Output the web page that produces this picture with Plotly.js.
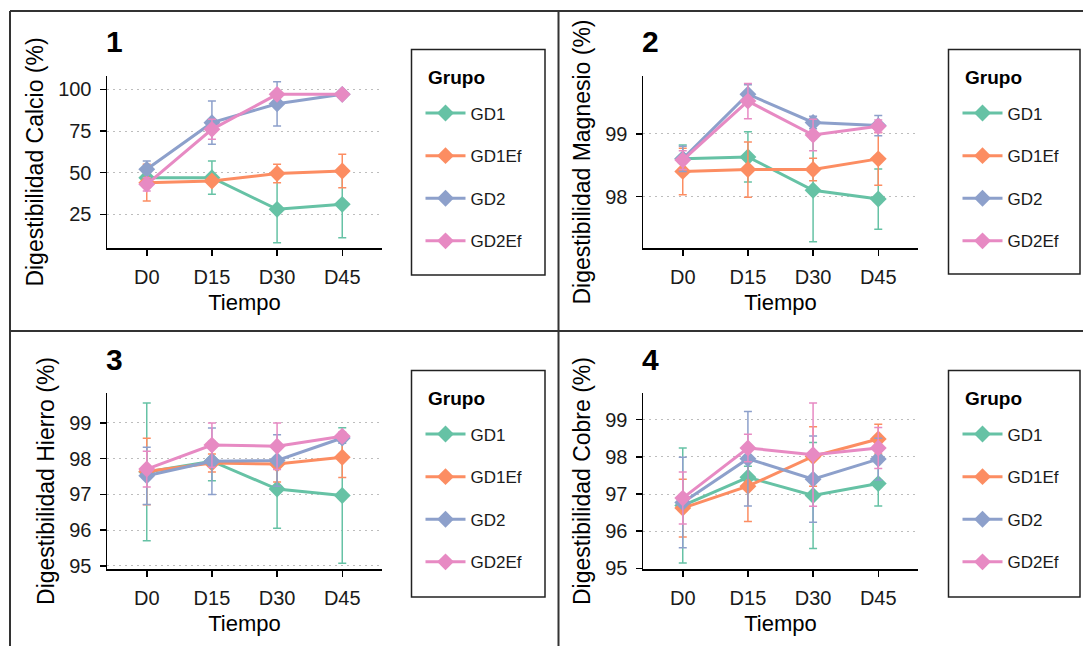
<!DOCTYPE html>
<html>
<head>
<meta charset="utf-8">
<script src="https://cdn.plot.ly/plotly-3.0.1.min.js"></script>
<style>html,body{margin:0;padding:0;background:#fff;}#chart{width:1083px;height:646px;}</style>
</head>
<body>
<div id="chart"></div>
<script>
// ---- data ----
const tiempo = ["D0", "D15", "D30", "D45"];
const grupos = ["GD1", "GD1Ef", "GD2", "GD2Ef"];
const colores = ["#66C2A5", "#FC8D62", "#8DA0CB", "#E78AC3"];

// Panel 1: Calcio
const calcio_GD1 = [47, 47, 28, 31];
const calcio_GD1_err = [4, 10, 20, 20];
const calcio_GD1Ef = [44, 45, 49.5, 51];
const calcio_GD1Ef_err = [11, 2, 5.5, 10];
const calcio_GD2 = [52, 80, 91.3, 97];
const calcio_GD2_err = [5, 13, 13.3, 1];
const calcio_GD2Ef = [43, 76, 97, 97];
const calcio_GD2Ef_err = [4, 6, 2, 1];

// Panel 2: Magnesio
const magnesio_GD1 = [98.6, 98.63, 98.1, 97.96];
const magnesio_GD1_err = [0.22, 0.4, 0.82, 0.48];
const magnesio_GD1Ef = [98.4, 98.43, 98.43, 98.6];
const magnesio_GD1Ef_err = [0.37, 0.44, 0.18, 0.42];
const magnesio_GD2 = [98.6, 99.63, 99.18, 99.13];
const magnesio_GD2_err = [0.2, 0.15, 0.1, 0.16];
const magnesio_GD2Ef = [98.58, 99.52, 98.98, 99.12];
const magnesio_GD2Ef_err = [0.15, 0.28, 0.25, 0.1];

// Panel 3: Hierro
const hierro_GD1 = [97.63, 97.93, 97.15, 96.97];
const hierro_GD1_err = [1.93, 0.55, 1.1, 1.9];
const hierro_GD1Ef = [97.64, 97.88, 97.85, 98.04];
const hierro_GD1Ef_err = [0.93, 0.25, 0.5, 0.57];
const hierro_GD2 = [97.52, 97.93, 97.95, 98.58];
const hierro_GD2_err = [0.8, 0.93, 0.72, 0.15];
const hierro_GD2Ef = [97.71, 98.38, 98.35, 98.63];
const hierro_GD2Ef_err = [0.5, 0.62, 0.65, 0.12];

// Panel 4: Cobre
const cobre_GD1 = [96.69, 97.45, 96.96, 97.28];
const cobre_GD1_err = [1.55, 0.3, 1.43, 0.6];
const cobre_GD1Ef = [96.62, 97.21, 98.01, 98.48];
const cobre_GD1Ef_err = [0.78, 0.95, 0.8, 0.4];
const cobre_GD2 = [96.77, 97.95, 97.4, 97.94];
const cobre_GD2_err = [1.22, 1.27, 1.16, 0.56];
const cobre_GD2Ef = [96.89, 98.24, 98.06, 98.24];
const cobre_GD2Ef_err = [0.7, 0.37, 1.39, 0.55];

const panelLabels = ["1", "2", "3", "4"];
const yTitles = ["Digestibilidad Calcio (%)", "Digestibilidad Magnesio (%)", "Digestibilidad Hierro (%)", "Digestibilidad Cobre (%)"];
const xTitle = "Tiempo";
const legendTitle = "Grupo";
const yTicks = [[25, 50, 75, 100], [98, 99], [95, 96, 97, 98, 99], [95, 96, 97, 98, 99]];
const yRanges = [[4.8, 108], [97.18, 99.92], [94.91, 99.84], [94.98, 99.72]];

const panelValues = [
  [calcio_GD1, calcio_GD1Ef, calcio_GD2, calcio_GD2Ef],
  [magnesio_GD1, magnesio_GD1Ef, magnesio_GD2, magnesio_GD2Ef],
  [hierro_GD1, hierro_GD1Ef, hierro_GD2, hierro_GD2Ef],
  [cobre_GD1, cobre_GD1Ef, cobre_GD2, cobre_GD2Ef]
];
const panelErrors = [
  [calcio_GD1_err, calcio_GD1Ef_err, calcio_GD2_err, calcio_GD2Ef_err],
  [magnesio_GD1_err, magnesio_GD1Ef_err, magnesio_GD2_err, magnesio_GD2Ef_err],
  [hierro_GD1_err, hierro_GD1Ef_err, hierro_GD2_err, hierro_GD2Ef_err],
  [cobre_GD1_err, cobre_GD1Ef_err, cobre_GD2_err, cobre_GD2Ef_err]
];

// ---- layout geometry (pixels) ----
const W = 1083, H = 646;
const px = v => v / W;
const py = v => 1 - v / H;
const plotBoxes = [
  {x0: 107, x1: 382, y0: 76, y1: 248},
  {x0: 643, x1: 918, y0: 76, y1: 248},
  {x0: 107, x1: 382, y0: 393, y1: 569},
  {x0: 643, x1: 918, y0: 393, y1: 569}
];
const legendBoxes = [
  {x0: 411.5, x1: 545, y0: 49.5, y1: 275},
  {x0: 948.5, x1: 1080, y0: 49.5, y1: 274},
  {x0: 411.5, x1: 545, y0: 370.5, y1: 597},
  {x0: 948.5, x1: 1080, y0: 370.5, y1: 597}
];
const FONT = "Liberation Sans, Arial, sans-serif";

const traces = [];
const layout = {
  width: W, height: H,
  margin: {l: 0, r: 0, t: 0, b: 0},
  paper_bgcolor: "#ffffff", plot_bgcolor: "rgba(0,0,0,0)",
  font: {family: FONT, color: "#1a1a1a"},
  shapes: [], annotations: []
};

for (let p = 0; p < 4; p++) {
  const sfx = p === 0 ? "" : String(p + 1);
  const legName = "legend" + sfx;
  for (let g = 0; g < 4; g++) {
    traces.push({
      type: "scatter", mode: "lines+markers",
      x: tiempo, y: panelValues[p][g], name: grupos[g],
      xaxis: "x" + sfx, yaxis: "y" + sfx,
      legend: legName, legendgroup: "p" + p + grupos[g],
      line: {color: colores[g], width: 3},
      marker: {symbol: "diamond", size: 13, color: colores[g]},
      error_y: {type: "data", array: panelErrors[p][g], visible: true, color: colores[g], thickness: 1.5, width: 4}
    });
  }
  const b = plotBoxes[p];
  layout["xaxis" + sfx] = {
    domain: [px(b.x0), px(b.x1)], anchor: "y" + sfx,
    type: "category", range: [-0.61, 3.61],
    showline: true, linecolor: "#000", linewidth: 1.5,
    ticks: "outside", ticklen: 6, tickwidth: 1.5, tickcolor: "#000",
    ticklabelstandoff: 4,
    showgrid: false, zeroline: false,
    tickfont: {size: 20, color: "#1a1a1a"},
    title: {text: xTitle, font: {size: 22, color: "#000"}, standoff: 8}
  };
  layout["yaxis" + sfx] = {
    domain: [py(b.y1), py(b.y0)], anchor: "x" + sfx,
    range: yRanges[p], tickvals: yTicks[p],
    showline: true, linecolor: "#000", linewidth: 1.5,
    ticks: "outside", ticklen: 6, tickwidth: 1.5, tickcolor: "#000",
    ticklabelstandoff: 4,
    showgrid: true, gridcolor: "#bdbdbd", gridwidth: 1, griddash: "2px,4px",
    zeroline: false,
    tickfont: {size: 20, color: "#1a1a1a"},
    title: {text: yTitles[p], font: {size: 23, color: "#000"}, standoff: 8}
  };
  const lb = legendBoxes[p];
  layout[legName] = {
    x: px(lb.x0 + 9), y: py(lb.y0 + 46), xanchor: "left", yanchor: "top",
    bgcolor: "rgba(0,0,0,0)", borderwidth: 0,
    font: {size: 17, color: "#1a1a1a", family: FONT},
    traceorder: "grouped", tracegroupgap: 17.5, itemwidth: 40
  };
  layout.shapes.push({type: "rect", xref: "paper", yref: "paper",
    x0: px(lb.x0), x1: px(lb.x1), y0: py(lb.y1), y1: py(lb.y0),
    line: {color: "#222", width: 1.5}});
  // legend title
  layout.annotations.push({
    xref: "paper", yref: "paper", text: legendTitle,
    x: px(lb.x0 + 14), xanchor: "left",
    y: py(lb.y0 + 27.5), yanchor: "middle",
    showarrow: false, font: {size: 19, color: "#000", weight: "bold", family: FONT}
  });
  // panel tag
  layout.annotations.push({
    xref: "paper", yref: "paper", text: panelLabels[p],
    x: px(b.x0 - 3), xanchor: "left",
    y: py(b.y0 - 34), yanchor: "middle",
    showarrow: false, font: {size: 30, color: "#000", weight: "bold", family: FONT}
  });
}

// outer frame and dividers
const frameLine = {color: "#333", width: 2};
layout.shapes.push(
  {type: "line", xref: "paper", yref: "paper", x0: px(10), x1: 1, y0: py(11), y1: py(11), line: frameLine},
  {type: "line", xref: "paper", yref: "paper", x0: px(10), x1: px(10), y0: py(11), y1: 0, line: frameLine},
  {type: "line", xref: "paper", yref: "paper", x0: px(558.5), x1: px(558.5), y0: py(11), y1: 0, line: frameLine},
  {type: "line", xref: "paper", yref: "paper", x0: px(10), x1: 1, y0: py(331), y1: py(331), line: frameLine}
);

Plotly.newPlot("chart", traces, layout, {displayModeBar: false, staticPlot: true});
</script>
</body>
</html>
